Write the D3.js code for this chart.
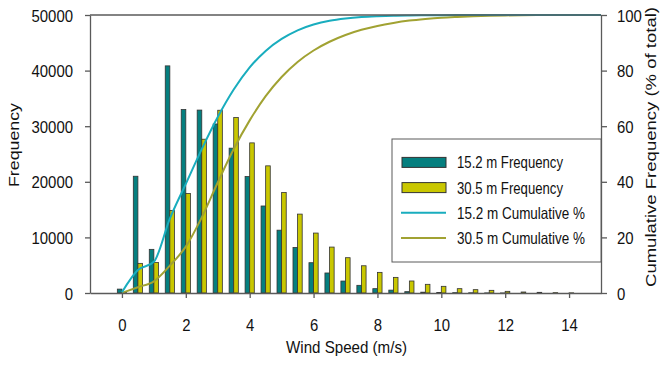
<!DOCTYPE html>
<html>
<head>
<meta charset="utf-8">
<script src="https://cdn.jsdelivr.net/npm/d3@7"></script>
<style>
  html, body { margin: 0; padding: 0; background: #fff; }
  svg { display: block; }
  text { fill: #111; font-family: "Liberation Sans", Arial, "DejaVu Sans", sans-serif; }
</style>
</head>
<body>
<svg id="chart" width="661" height="366"></svg>
<script>
// Wind speed bins (m/s)
const speeds = [0, 0.5, 1, 1.5, 2, 2.5, 3, 3.5, 4, 4.5, 5, 5.5, 6, 6.5, 7, 7.5,
                8, 8.5, 9, 9.5, 10, 10.5, 11, 11.5, 12, 12.5, 13, 13.5, 14, 14.5, 15];

// Frequency counts at 15.2 m height
const freq15 = [700, 21000, 7850, 40850, 33000, 32900, 30400, 26050, 20950, 15650,
                11300, 8200, 5450, 3600, 2150, 1380, 780, 520, 240, 150,
                100, 60, 40, 20, 10, 0, 0, 0, 0, 0, 0];

// Frequency counts at 30.5 m height
const freq30 = [150, 5330, 5500, 14850, 17900, 27660, 32870, 31560, 27000, 22870,
                18080, 14190, 10780, 8260, 6350, 4900, 3710, 2810, 2160, 1560,
                1200, 780, 600, 480, 300, 180, 120, 60, 30, 0, 0];

// Cumulative frequency (% of total) at 15.2 m
const cum15 = [0.27, 8.24, 11.22, 26.73, 39.26, 51.76, 63.30, 73.19, 81.15, 87.09,
               91.38, 94.49, 96.56, 97.93, 98.75, 99.27, 99.57, 99.77, 99.86, 99.91,
               99.95, 99.97, 99.99, 100, 100, 100, 100, 100, 100, 100, 100];

// Cumulative frequency (% of total) at 30.5 m
const cum30 = [0.06, 2.09, 4.19, 9.85, 16.68, 27.22, 39.76, 51.79, 62.09, 70.81,
               77.70, 83.11, 87.23, 90.38, 92.80, 94.67, 96.08, 97.15, 97.98, 98.57,
               99.03, 99.32, 99.55, 99.74, 99.85, 99.92, 99.97, 99.99, 100, 100, 100];

const xTicks = [0, 2, 4, 6, 8, 10, 12, 14];
const yLeftTicks = [0, 10000, 20000, 30000, 40000, 50000];
const yRightTicks = [0, 20, 40, 60, 80, 100];

const seriesNames = ["15.2 m Frequency", "30.5 m Frequency", "15.2 m Cumulative %", "30.5 m Cumulative %"];
const colors = {
  bar15: "#057f7f",
  bar30: "#c9c700",
  line15: "#19adbe",
  line30: "#a1a232",
  axis: "#5a5a5a",
  barStroke: "#333333"
};

const svg = d3.select("#chart");
const plot = { left: 90, right: 601, top: 15, bottom: 293 };

const x = d3.scaleLinear().domain([-1, 15]).range([plot.left, plot.right]);
const yL = d3.scaleLinear().domain([0, 50000]).range([plot.bottom, plot.top]);
const yR = d3.scaleLinear().domain([0, 100]).range([plot.bottom, plot.top]);
const sub = d3.scaleBand().domain(["h15", "h30"]).range([-4.6, 4.6]).padding(0);

// Condensed lettering: squeeze each label to a set advance per character
const condense = (sel, perChar) =>
  sel.attr("textLength", function () { return this.textContent.length * perChar; })
     .attr("lengthAdjust", "spacingAndGlyphs");

// Bars
const barData = [];
speeds.forEach((s, i) => {
  barData.push({ s, key: "h15", v: freq15[i] });
  barData.push({ s, key: "h30", v: freq30[i] });
});

svg.append("g")
  .selectAll("rect")
  .data(barData.filter(d => d.v > 0))
  .join("rect")
  .attr("x", d => x(d.s) + sub(d.key))
  .attr("width", sub.bandwidth())
  .attr("y", d => yL(d.v))
  .attr("height", d => yL(0) - yL(d.v))
  .attr("fill", d => d.key === "h15" ? colors.bar15 : colors.bar30)
  .attr("stroke", colors.barStroke)
  .attr("stroke-width", 0.8);

// Cumulative curves
const line = d3.line()
  .x((d, i) => x(speeds[i]))
  .y(d => yR(d))
  .curve(d3.curveMonotoneX);

svg.append("path").datum(cum30)
  .attr("d", line).attr("fill", "none")
  .attr("stroke", colors.line30).attr("stroke-width", 2);
svg.append("path").datum(cum15)
  .attr("d", line).attr("fill", "none")
  .attr("stroke", colors.line15).attr("stroke-width", 2);

// Frame: top border
svg.append("line")
  .attr("x1", plot.left).attr("x2", plot.right)
  .attr("y1", plot.top).attr("y2", plot.top)
  .attr("stroke", colors.axis).attr("stroke-width", 1.3);

// Axes
const styleAxis = g => {
  g.attr("font-family", null);
  g.select(".domain").attr("stroke", colors.axis).attr("stroke-width", 1.3);
  g.selectAll(".tick line").attr("stroke", colors.axis).attr("stroke-width", 1.3);
  g.selectAll(".tick text").style("font-size", "17px").attr("fill", "#111").call(condense, 8.3);
};

svg.append("g")
  .attr("transform", `translate(0,${plot.bottom})`)
  .call(d3.axisBottom(x).tickValues(xTicks).tickSize(5).tickSizeOuter(0).tickFormat(d3.format("d")))
  .call(styleAxis)
  .call(g => g.selectAll(".tick text").attr("dy", "0").attr("y", 37.5));

svg.append("g")
  .attr("transform", `translate(${plot.left},0)`)
  .call(d3.axisLeft(yL).tickValues(yLeftTicks).tickSize(5).tickSizeOuter(0).tickPadding(12).tickFormat(d3.format("d")))
  .call(styleAxis)
  .call(g => g.selectAll(".tick text").attr("dy", "0.36em"));

svg.append("g")
  .attr("transform", `translate(${plot.right},0)`)
  .call(d3.axisRight(yR).tickValues(yRightTicks).tickSize(6).tickSizeOuter(0).tickPadding(10).tickFormat(d3.format("d")))
  .call(styleAxis)
  .call(g => g.selectAll(".tick text").attr("dy", "0.36em"));

// Axis titles
svg.append("text")
  .attr("x", (plot.left + plot.right) / 2 + 1)
  .attr("y", 353)
  .attr("text-anchor", "middle")
  .style("font-size", "17px")
  .attr("textLength", 121).attr("lengthAdjust", "spacingAndGlyphs")
  .text("Wind Speed (m/s)");

svg.append("text")
  .attr("transform", "translate(19,145) rotate(-90) scale(1,0.85)")
  .attr("text-anchor", "middle")
  .style("font-size", "17.5px")
  .attr("textLength", 84).attr("lengthAdjust", "spacingAndGlyphs")
  .text("Frequency");

svg.append("text")
  .attr("transform", "translate(656,147) rotate(-90) scale(1,0.85)")
  .attr("text-anchor", "middle")
  .style("font-size", "17.5px")
  .attr("textLength", 280).attr("lengthAdjust", "spacingAndGlyphs")
  .text("Cumulative Frequency (% of total)");

// Legend
const legend = svg.append("g");
legend.append("rect")
  .attr("x", 392).attr("y", 139)
  .attr("width", plot.right - 392).attr("height", 123)
  .attr("fill", "#fff").attr("stroke", colors.axis).attr("stroke-width", 1);

const legendItems = [
  { name: seriesNames[0], type: "bar", color: colors.bar15, w: 106 },
  { name: seriesNames[1], type: "bar", color: colors.bar30, w: 106 },
  { name: seriesNames[2], type: "line", color: colors.line15, w: 128 },
  { name: seriesNames[3], type: "line", color: colors.line30, w: 128 }
];

legendItems.forEach((it, i) => {
  const cy = 162.4 + i * 25.2;
  if (it.type === "bar") {
    legend.append("rect")
      .attr("x", 402).attr("y", cy - 5)
      .attr("width", 44).attr("height", 10)
      .attr("fill", it.color).attr("stroke", colors.barStroke).attr("stroke-width", 1);
  } else {
    legend.append("line")
      .attr("x1", 401).attr("x2", 446)
      .attr("y1", cy).attr("y2", cy)
      .attr("stroke", it.color).attr("stroke-width", 2);
  }
  legend.append("text")
    .attr("x", 457).attr("y", cy + 6)
    .style("font-size", "16.5px")
    .attr("textLength", it.w).attr("lengthAdjust", "spacingAndGlyphs")
    .text(it.name);
});
</script>
</body>
</html>
